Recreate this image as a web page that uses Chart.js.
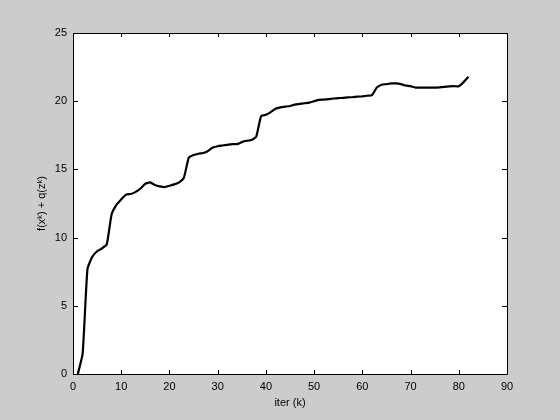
<!DOCTYPE html>
<html>
<head>
<meta charset="utf-8">
<script src="https://cdn.jsdelivr.net/npm/chart.js@4/dist/chart.umd.min.js"></script>
<style>
  html, body { margin: 0; padding: 0; background: #cccccc; }
  #wrap { width: 560px; height: 420px; }
</style>
</head>
<body>
<div id="wrap"><canvas id="chart" width="560" height="420"></canvas></div>
<script>
// iteratsiyalar va qiymatlar
const iters = [];
for (let k = 1; k <= 82; k++) iters.push(k);

const values = [
    0, 1.5, 7.7, 8.6, 9.0, 9.2, 9.5, 11.7, 12.4, 12.8,
    13.15, 13.2, 13.35, 13.6, 13.95, 14.05, 13.85, 13.75, 13.7, 13.8,
    13.9, 14.05, 14.4, 15.85, 16.05, 16.15, 16.2, 16.35, 16.6, 16.7,
    16.75, 16.8, 16.85, 16.85, 17.0, 17.1, 17.15, 17.4, 18.9, 19.0,
    19.2, 19.45, 19.55, 19.6, 19.65, 19.75, 19.8, 19.85, 19.9, 20.0,
    20.1, 20.12, 20.15, 20.2, 20.22, 20.25, 20.28, 20.3, 20.33, 20.36,
    20.4, 20.45, 21.0, 21.2, 21.25, 21.3, 21.3, 21.25, 21.15, 21.1,
    21.0, 21.0, 21.0, 21.0, 21.0, 21.02, 21.05, 21.08, 21.1, 21.1,
    21.4, 21.8
];

const xTicks = [0, 10, 20, 30, 40, 50, 60, 70, 80, 90];
const yTicks = [0, 5, 10, 15, 20, 25];

const points = iters.map((k, i) => ({ x: k, y: values[i] }));

// oq fon + ramka + ichki chiziqchalar (MATLAB uslubi)
const matlabBox = {
    id: 'matlabBox',
    beforeDraw(chart) {
        const a = chart.chartArea;
        const ctx = chart.ctx;
        ctx.save();
        ctx.fillStyle = '#ffffff';
        ctx.fillRect(a.left, a.top, a.right - a.left, a.bottom - a.top);
        ctx.restore();
    },
    afterDraw(chart) {
        const a = chart.chartArea;
        const ctx = chart.ctx;
        const xs = chart.scales.x, ys = chart.scales.y;
        ctx.save();
        ctx.strokeStyle = '#000000';
        ctx.lineWidth = 1;
        ctx.beginPath();
        ctx.rect(Math.round(a.left) + 0.5, Math.round(a.top) + 0.5,
                 Math.round(a.right - a.left), Math.round(a.bottom - a.top));
        ctx.stroke();
        ctx.beginPath();
        xTicks.forEach(v => {
            const px = Math.round(xs.getPixelForValue(v)) + 0.5;
            ctx.moveTo(px, a.bottom); ctx.lineTo(px, a.bottom - 4);
            ctx.moveTo(px, a.top); ctx.lineTo(px, a.top + 4);
        });
        yTicks.forEach(v => {
            const py = Math.round(ys.getPixelForValue(v)) + 0.5;
            ctx.moveTo(a.left, py); ctx.lineTo(a.left + 5, py);
            ctx.moveTo(a.right, py); ctx.lineTo(a.right - 5, py);
        });
        ctx.stroke();
        ctx.restore();
    }
};

const font = { family: '"Liberation Sans", Arial, sans-serif', size: 11 };

new Chart(document.getElementById('chart').getContext('2d'), {
    type: 'line',
    data: {
        datasets: [{
            data: points,
            borderColor: '#000000',
            borderWidth: 2.2,
            pointRadius: 0,
            fill: false,
            tension: 0.15
        }]
    },
    options: {
        responsive: false,
        animation: false,
        events: [],
        layout: { padding: { top: 33, right: 53, left: 0, bottom: 0 } },
        plugins: { legend: { display: false }, tooltip: { enabled: false } },
        scales: {
            x: {
                type: 'linear',
                min: 0, max: 90,
                afterFit: s => { s.height = 46; },
                afterBuildTicks: s => { s.ticks = xTicks.map(v => ({ value: v })); },
                grid: { display: false, drawTicks: false },
                border: { display: false },
                ticks: { color: '#000', font: font, padding: 6, maxRotation: 0 },
                title: { display: true, text: 'iter (k)', color: '#000', font: font, padding: { top: 0, bottom: 10 } }
            },
            y: {
                type: 'linear',
                min: 0, max: 25,
                afterFit: s => { s.width = 73; },
                afterBuildTicks: s => { s.ticks = yTicks.map(v => ({ value: v })); },
                grid: { display: false, drawTicks: false },
                border: { display: false },
                ticks: { color: '#000', font: font, padding: 6 },
                title: { display: true, text: 'f(xᵏ) + q(zᵏ)', color: '#000', font: font, padding: { top: 35, bottom: 0 } }
            }
        }
    },
    plugins: [matlabBox]
});
</script>
</body>
</html>
